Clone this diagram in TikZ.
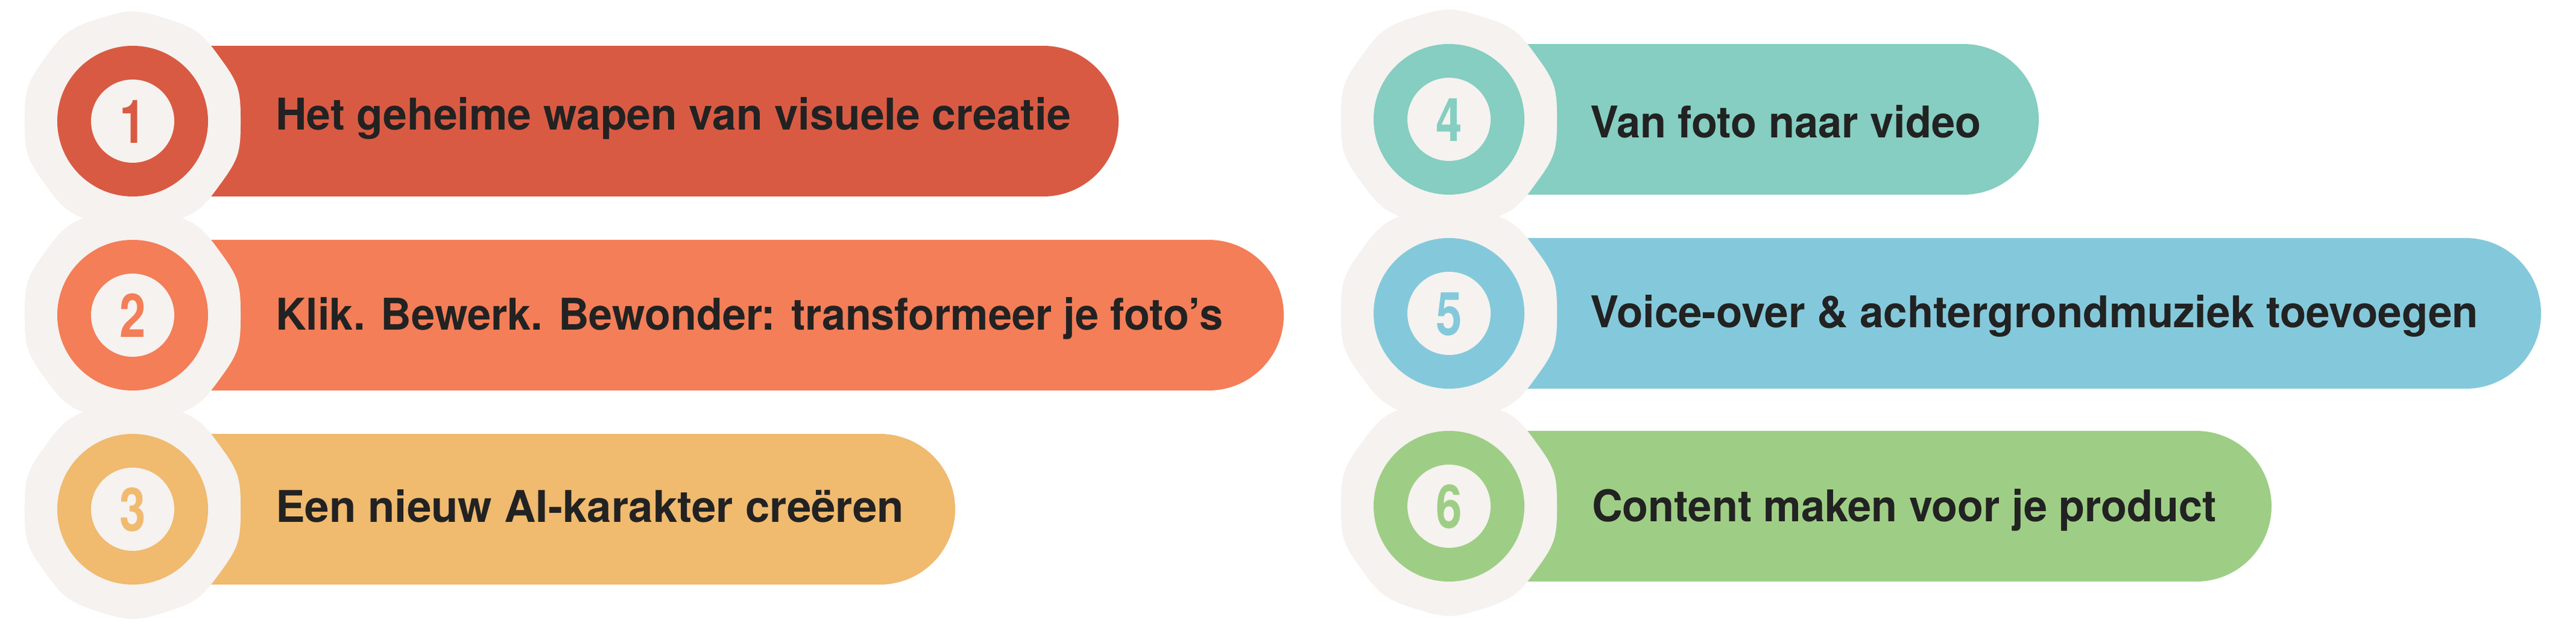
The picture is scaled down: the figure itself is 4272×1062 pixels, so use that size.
\documentclass[tikz,border=0pt]{standalone}
\usepackage{fontspec}
\setmainfont{TeX Gyre Heros}
\definecolor{blobc}{HTML}{F5F2EF}
\definecolor{txtc}{HTML}{222222}
\definecolor{cA}{HTML}{D95A43}
\definecolor{cB}{HTML}{F37E58}
\definecolor{cC}{HTML}{F0BA6F}
\definecolor{cD}{HTML}{85CEC1}
\definecolor{cE}{HTML}{84C9DB}
\definecolor{cF}{HTML}{9ECE85}
\newlength\natw
\newcommand\fitw[2]{\settowidth\natw{#2}\scalebox{\fpeval{#1/\natw}}[1]{#2}}
% slightly wavy blob behind a ring
\newcommand\blob[2]{\fill[blobc,shift={(#1,#2)}]
  plot[smooth cycle,tension=0.6] coordinates {
  (0:179) (18:182.5) (36:179) (54:182.5) (72:179) (90:182) (108:179) (126:182.5)
  (144:179) (162:182.5) (180:179) (198:182.5) (216:179) (234:182.5) (252:179)
  (270:182) (288:179) (306:182.5) (324:179) (342:182.5)};}
% bar with round right end
\newcommand\pill[4]{\fill[#4] (#1,#2-125) rectangle (#3-125,#2+125);
  \fill[#4] (#3-125,#2) circle (125);}
% ring with inner disc
\newcommand\ring[3]{\fill[#3] (#1,#2) circle (125); \fill[blobc] (#1,#2) circle (69);}
\tikzset{
  lbl/.style={anchor=base west, inner sep=0pt, text=txtc,
    font=\fontsize{72.5}{80}\selectfont\bfseries},
  numlbl/.style={anchor=base, inner sep=0pt,
    font=\fontsize{100}{110}\selectfont\bfseries}
}
\begin{document}
\begin{tikzpicture}[x=1pt,y=-1pt]
\useasboundingbox (0,0) rectangle (4272,1062);
\fill[white] (0,0) rectangle (4272,1062);
% bars
\pill{220}{201}{1855}{cA}
\pill{220}{523}{2129}{cB}
\pill{220}{845}{1584}{cC}
\pill{2403}{198}{3381}{cD}
\pill{2403}{520}{4214}{cE}
\pill{2403}{840}{3767}{cF}
% blobs
\blob{220}{201}\blob{220}{523}\blob{220}{845}
\blob{2403}{198}\blob{2403}{520}\blob{2403}{840}
% rings
\ring{220}{201}{cA}
\ring{220}{523}{cB}
\ring{220}{845}{cC}
\ring{2403}{198}{cD}
\ring{2403}{520}{cE}
\ring{2403}{840}{cF}
% numbers
\node[numlbl,text=cA] (n1) at (220,237) {\scalebox{0.78}[1]{1}};
\node[numlbl,text=cB] (n2) at (220,559) {\scalebox{0.78}[1]{2}};
\node[numlbl,text=cC] (n3) at (220,881) {\scalebox{0.78}[1]{3}};
\node[numlbl,text=cD] (n4) at (2403,234) {\scalebox{0.78}[1]{4}};
\node[numlbl,text=cE] (n5) at (2403,556) {\scalebox{0.78}[1]{5}};
\node[numlbl,text=cF] (n6) at (2403,876) {\scalebox{0.78}[1]{6}};
% labels
\node[lbl] (t1) at (457,215) {\fitw{1319}{Het geheime wapen van visuele creatie}};
\node[lbl] (t2) at (457,547) {\fitw{1571}{Klik. Bewerk. Bewonder: transformeer je foto’s}};
\node[lbl] (t3) at (457,866) {\fitw{1042}{Een nieuw AI-karakter creëren}};
\node[lbl] (t4) at (2637,228) {\fitw{648}{Van foto naar video}};
\node[lbl] (t5) at (2637,543) {\fitw{1473}{Voice-over \& achtergrondmuziek toevoegen}};
\node[lbl] (t6) at (2640,865) {\fitw{1036}{Content maken voor je product}};
\end{tikzpicture}
\end{document}
